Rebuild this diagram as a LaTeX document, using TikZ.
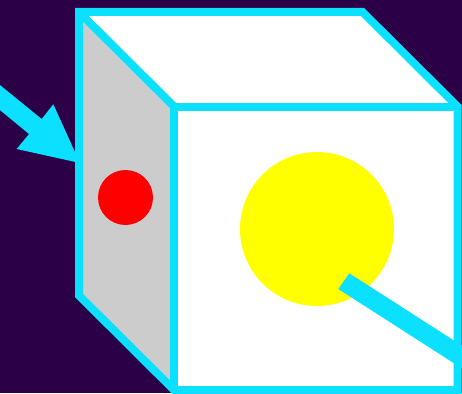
\documentclass[tikz,border=0pt]{standalone}
\definecolor{bgdark}{HTML}{2B0047}
\definecolor{edgecyan}{HTML}{0BE1FF}
\definecolor{sidegrey}{HTML}{CCCCCC}
\definecolor{pureyellow}{HTML}{FFFF00}
\definecolor{purered}{HTML}{FF0000}
\definecolor{purewhite}{HTML}{FFFFFF}
\tikzset{
  cubeedge/.style={draw=edgecyan,line width=8pt,line join=miter,line cap=butt},
  pointer/.style={fill=edgecyan,draw=none}
}
\begin{document}
\begin{tikzpicture}[x=1pt,y=-1pt]
\useasboundingbox (0,0) rectangle (462,393);
\clip (0,0) rectangle (462,393);
\fill[bgdark] (0,0) rectangle (462,393);
% faces
\fill[purewhite] (79,12) -- (362.5,12) -- (457.5,106.5) -- (174,106.5) -- cycle;
\fill[sidegrey] (79,12) -- (174,106.5) -- (174,390) -- (79,295.5) -- cycle;
\fill[purewhite] (174,106.5) rectangle (457.5,390);
% edges
\draw[cubeedge] (79,12) -- (362.5,12) -- (457.5,106.5) -- (457.5,390) -- (174,390) -- (79,295.5) -- cycle;
\draw[cubeedge] (79,12) -- (174,106.5);
\draw[cubeedge] (174,390) -- (174,106.5) -- (457.5,106.5);
% circles
\fill[purered] (125.5,197.5) circle (27.5);
\fill[pureyellow] (317,229) circle (77);
% arrow at left
\fill[pointer] (-5,81) -- (41.7,119) -- (53.3,104.3) -- (80,163) -- (16.7,149) -- (29,134) -- (-5,106) -- cycle;
% bar at right
\fill[pointer] (349.3,273.3) -- (480,357.2) -- (469,372.9) -- (338.3,289) -- cycle;
\end{tikzpicture}
\end{document}
